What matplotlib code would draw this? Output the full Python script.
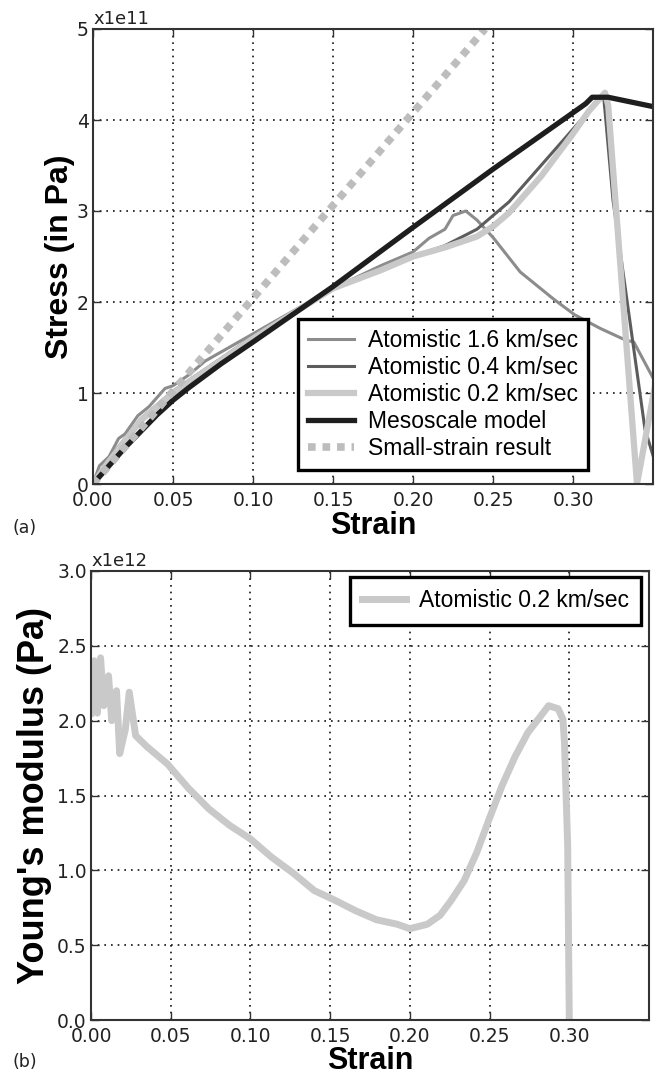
import numpy as np
import matplotlib
matplotlib.use("Agg")
import matplotlib.pyplot as plt

# ---- panel (a): stress-strain, stress in units of 1e11 Pa ----
strain_16 = [0.0, 0.004, 0.01, 0.016, 0.02, 0.028, 0.035, 0.04, 0.045, 0.05, 0.06, 0.07, 0.08,
             0.10, 0.12, 0.15, 0.18, 0.20, 0.21, 0.22, 0.225, 0.233, 0.24, 0.25, 0.267, 0.288,
             0.301, 0.317, 0.333, 0.338, 0.352]
stress_16 = [0.0, 0.2, 0.3, 0.5, 0.55, 0.75, 0.85, 0.95, 1.05, 1.08, 1.2, 1.35, 1.45,
             1.65, 1.85, 2.15, 2.4, 2.55, 2.7, 2.8, 2.95, 3.0, 2.9, 2.71, 2.33, 2.03,
             1.86, 1.71, 1.58, 1.56, 1.1]

strain_04 = [0.0, 0.01, 0.03, 0.05, 0.10, 0.15, 0.20, 0.22, 0.24, 0.26, 0.28, 0.30, 0.315,
             0.319, 0.32, 0.325, 0.345, 0.352]
stress_04 = [0.0, 0.28, 0.72, 1.02, 1.62, 2.15, 2.5, 2.62, 2.8, 3.1, 3.5, 3.9, 4.2,
             4.28, 4.1, 3.12, 0.6, 0.2]

strain_02 = [0.0, 0.01, 0.03, 0.05, 0.10, 0.15, 0.18, 0.20, 0.22, 0.24, 0.25, 0.26, 0.28,
             0.30, 0.31, 0.32, 0.322, 0.340, 0.352]
stress_02 = [0.0, 0.25, 0.7, 1.0, 1.6, 2.15, 2.35, 2.5, 2.6, 2.72, 2.83, 2.98, 3.38,
             3.85, 4.1, 4.3, 4.16, 0.0, 1.15]

strain_meso = [0.0, 0.01, 0.02, 0.03, 0.04, 0.05, 0.06, 0.08, 0.10, 0.15, 0.20, 0.25, 0.30,
               0.308, 0.312, 0.322, 0.352]
stress_meso = [0.0, 0.2, 0.4, 0.58, 0.76, 0.92, 1.06, 1.32, 1.56, 2.17, 2.82, 3.46, 4.08,
               4.18, 4.25, 4.25, 4.14]

strain_small = [0.0, 0.245]
stress_small = [0.0, 5.0]

# ---- panel (b): Young's modulus, units of 1e12 Pa ----
strain_E = [0.0, 0.002, 0.004, 0.006, 0.008, 0.011, 0.013, 0.016, 0.018, 0.0215, 0.024, 0.028,
            0.0347, 0.048, 0.061, 0.074, 0.087, 0.100, 0.113, 0.127, 0.140, 0.153, 0.166,
            0.179, 0.192, 0.200, 0.211, 0.219, 0.226, 0.234, 0.242, 0.250, 0.258, 0.266,
            0.274, 0.282, 0.287, 0.293, 0.296, 0.297, 0.299, 0.300]
modulus_E = [2.05, 2.4, 2.05, 2.42, 2.1, 2.3, 2.0, 2.2, 1.78, 1.94, 2.19, 1.9,
             1.83, 1.71, 1.55, 1.41, 1.30, 1.21, 1.09, 0.98, 0.865, 0.80, 0.73,
             0.67, 0.64, 0.61, 0.64, 0.70, 0.80, 0.93, 1.12, 1.35, 1.57, 1.76,
             1.92, 2.03, 2.10, 2.08, 2.01, 1.85, 1.16, 0.0]

labels_a = ["Atomistic 1.6 km/sec", "Atomistic 0.4 km/sec", "Atomistic 0.2 km/sec",
            "Mesoscale model", "Small-strain result"]

W, H = 656, 1074
fig = plt.figure(figsize=(W / 100, H / 100), dpi=100)
fig.patch.set_facecolor("white")

LAB = dict(family="Liberation Sans", weight="bold")
LEG = dict(family="Liberation Sans", size=16.5)


def style_axes(ax):
    ax.set_xlim(0, 0.35)
    ax.set_xticks([0.0, 0.05, 0.10, 0.15, 0.20, 0.25, 0.30])
    ax.set_xticklabels(["0.00", "0.05", "0.10", "0.15", "0.20", "0.25", "0.30"])
    ax.tick_params(direction="in", top=True, right=True, length=6, width=1,
                   labelsize=13.5, labelcolor="#222222", color="#333333")
    ax.tick_params(axis="x", pad=5)
    ax.tick_params(axis="y", pad=3)
    ax.grid(True, color="#111111", linestyle=(0, (1, 3)), linewidth=1.2)
    for s in ax.spines.values():
        s.set_color("#333333")
        s.set_linewidth(1.5)


# panel (a)
ax1 = fig.add_axes([93 / W, 1 - 484 / H, 560 / W, 455 / H])
ax1.plot(strain_16, stress_16, color="#8c8c8c", lw=2.2, label=labels_a[0])
ax1.plot(strain_04, stress_04, color="#5c5c5c", lw=2.2, label=labels_a[1])
ax1.plot(strain_02, stress_02, color="#c9c9c9", lw=4.5, label=labels_a[2])
ax1.plot(strain_meso, stress_meso, color="#1e1e1e", lw=3.8, label=labels_a[3])
ax1.plot(strain_small, stress_small, color="#bdbdbd", lw=5.5, linestyle=(0, (1, 0.9)),
         dash_capstyle="butt", label=labels_a[4])
ax1.set_ylim(0, 5)
ax1.set_yticks([0, 1, 2, 3, 4, 5])
ax1.set_yticklabels(["0", "1", "2", "3", "4", "5"])
style_axes(ax1)
ax1.set_ylabel("Stress (in Pa)", fontsize=23, **LAB)
ax1.yaxis.set_label_coords(-0.032, 0.5)
ax1.set_xlabel("Strain", fontsize=22, **LAB)
ax1.xaxis.set_label_coords(0.5, -0.06)
ax1.text(0.0, 1.003, "x1e11", transform=ax1.transAxes, ha="left", va="bottom",
         fontsize=13, color="#222222")
leg1 = ax1.legend(loc="lower right", bbox_to_anchor=(0.884, 0.031), borderaxespad=0,
                  prop=LEG, handlelength=2.0, handletextpad=0.6, labelspacing=0.17,
                  borderpad=0.45, fancybox=False, framealpha=1)
leg1.get_frame().set_edgecolor("black")
leg1.get_frame().set_linewidth(2.4)

# panel (b)
ax2 = fig.add_axes([91 / W, 1 - 1020 / H, 558 / W, 449 / H])
ax2.plot(strain_E, modulus_E, color="#c9c9c9", lw=5, label="Atomistic 0.2 km/sec")
ax2.set_ylim(0, 3.0)
ax2.set_yticks([0.0, 0.5, 1.0, 1.5, 2.0, 2.5, 3.0])
ax2.set_yticklabels(["0.0", "0.5", "1.0", "1.5", "2.0", "2.5", "3.0"])
style_axes(ax2)
ax2.set_ylabel("Young's modulus (Pa)", fontsize=26, **LAB)
ax2.yaxis.set_label_coords(-0.07, 0.5)
ax2.set_xlabel("Strain", fontsize=22, **LAB)
ax2.xaxis.set_label_coords(0.5, -0.058)
ax2.text(0.0, 1.003, "x1e12", transform=ax2.transAxes, ha="left", va="bottom",
         fontsize=13, color="#222222")
leg2 = ax2.legend(loc="upper right", bbox_to_anchor=(0.986, 0.987), borderaxespad=0,
                  prop=LEG, handlelength=1.9, handletextpad=0.55, borderpad=0.55,
                  fancybox=False, framealpha=1)
leg2.get_frame().set_edgecolor("black")
leg2.get_frame().set_linewidth(2.4)

fig.text(13 / W, 1 - 528 / H, "(a)", fontsize=12.5, ha="left", va="center", color="#222222")
fig.text(13 / W, 1 - 1062 / H, "(b)", fontsize=12.5, ha="left", va="center", color="#222222")

fig.savefig("out.png", dpi=100, facecolor="white")
